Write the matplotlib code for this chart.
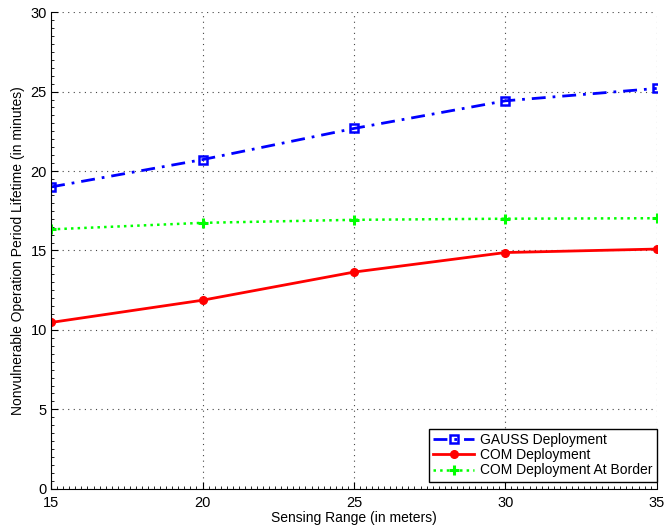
# sensing range vs nonvulnerable lifetime
import numpy as np
import matplotlib
matplotlib.use('Agg')
import matplotlib.pyplot as plt
from matplotlib.ticker import MultipleLocator

plt.rcParams['font.family'] = ['Liberation Sans', 'DejaVu Sans']

sensing_range = [15, 20, 25, 30, 35]
gauss = [19.0, 20.72, 22.68, 24.42, 25.2]
com = [10.47, 11.87, 13.64, 14.87, 15.09]
com_border = [16.33, 16.74, 16.93, 17.0, 17.03]
labels = ['GAUSS Deployment', 'COM Deployment', 'COM Deployment At Border']

fig = plt.figure(figsize=(6.64, 5.29), dpi=100, facecolor='white')
ax = fig.add_axes([0.077, 0.076, 0.912, 0.901])

ax.plot(sensing_range, gauss, color='blue', lw=2.0, ls=(0, (5, 2.5, 1, 2.5)),
        marker='s', ms=5.5, mfc='none', mec='blue', mew=1.8, label=labels[0])
ax.plot(sensing_range, com, '-', color='red', lw=2.0, marker='o',
        ms=5.5, mfc='red', mec='red', label=labels[1])
ax.plot(sensing_range, com_border, ':', color='#00ff00', lw=1.8, marker='+',
        ms=7, mew=2.2, label=labels[2])

ax.set_xlim(15, 35)
ax.set_ylim(0, 30)
ax.xaxis.set_major_locator(MultipleLocator(5))
ax.yaxis.set_major_locator(MultipleLocator(5))
ax.xaxis.set_minor_locator(MultipleLocator(0.2))
ax.yaxis.set_minor_locator(MultipleLocator(0.5))
ax.tick_params(which='both', direction='in', labelsize=10.5)
ax.tick_params(axis='x', pad=5)
ax.tick_params(axis='y', pad=3)
ax.tick_params(which='major', length=5)
ax.tick_params(which='minor', length=2.5)
ax.spines['top'].set_visible(False)
ax.spines['right'].set_visible(False)
ax.grid(True, which='major', linestyle=(0, (1, 4)), color='#444444', linewidth=0.8)

ax.set_xlabel('Sensing Range (in meters)', fontsize=10, labelpad=1)
ax.set_ylabel('Nonvulnerable Operation Period Lifetime (in minutes)', fontsize=10, labelpad=4)

leg = ax.legend(loc='lower right', bbox_to_anchor=(1.0, 0.015), fontsize=10,
                fancybox=False, framealpha=1, edgecolor='black', borderaxespad=0,
                handlelength=3.0, handletextpad=0.4, labelspacing=0.1,
                borderpad=0.3)
leg.get_frame().set_linewidth(1.0)

plt.savefig('out.png', dpi=100)
